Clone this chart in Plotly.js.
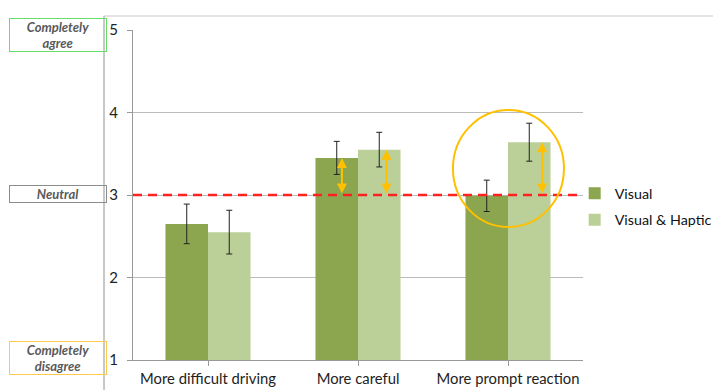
<!DOCTYPE html>
<html><head><meta charset="utf-8">
<script src="https://cdn.plot.ly/plotly-3.0.1.min.js"></script>
<style>html,body{margin:0;padding:0;background:#fff}#chart{width:713px;height:390px}</style>
</head><body><div id="chart"></div>
<script>
const categories = ["More difficult driving", "More careful", "More prompt reaction"];
const visual = [2.65, 3.45, 2.99];
const visualErr = [0.24, 0.20, 0.19];
const visualHaptic = [2.55, 3.55, 3.64];
const visualHapticErr = [0.265, 0.21, 0.23];
const seriesNames = ["Visual", "Visual & Haptic"];
const yTicks = [1, 2, 3, 4, 5];
const neutralLevel = 3;
const sideLabels = ["Completely<br>agree", "Neutral", "Completely<br>disagree"];
const sideLabelLevels = [4.945, 3.012, 1.03];

const darkGreen = "#8BA64E", lightGreen = "#BBCF98", gold = "#FFC000";
const xIdx = categories.map((c, i) => i);

const traces = [
  {type: "bar", name: seriesNames[0], legendgroup: "g1", x: xIdx, y: visual, marker: {color: darkGreen},
   error_y: {type: "data", array: visualErr, color: "#222", thickness: 1, width: 3}},
  {type: "bar", name: seriesNames[1], legendgroup: "g2", x: xIdx, y: visualHaptic, marker: {color: lightGreen},
   error_y: {type: "data", array: visualHapticErr, color: "#222", thickness: 1, width: 3}}
];

const arrowSpecs = [
  {x: 1 - 0.107, y: visual[1]},
  {x: 1 + 0.19, y: visualHaptic[1]},
  {x: 2 + 0.227, y: visualHaptic[2]}
];
const annotations = arrowSpecs.map(a => ({
  x: a.x, y: a.y, xref: "x", yref: "y", ax: a.x, ay: neutralLevel, axref: "x", ayref: "y",
  showarrow: true, arrowside: "end+start", arrowhead: 2, arrowsize: 1, arrowwidth: 2,
  arrowcolor: gold, text: ""
}));
const boxColors = ["#66DD66", "#8C8C8C", "#FFC94D"];
const boxHeights = [32, 16, 32];
sideLabels.forEach((t, i) => {
  annotations.push({
    text: "<b><i>" + t + "</i></b>", xref: "paper", yref: "y", x: -0.1656, y: sideLabelLevels[i],
    showarrow: false, xanchor: "center", yanchor: "middle",
    font: {family: "Lato, 'Open Sans', sans-serif", size: 13, color: "#595959"},
    bordercolor: boxColors[i], borderwidth: 1, borderpad: 0, width: 96, height: boxHeights[i],
    bgcolor: "rgba(0,0,0,0)"
  });
});

const shapes = [
  {type: "line", xref: "paper", yref: "paper", x0: -0.0644, x1: -0.0644, y0: 1.0424, y1: -0.1, line: {color: "#c8c8c8", width: 2}, layer: "below"},
  {type: "line", xref: "paper", yref: "paper", x0: -0.0644, x1: 1.5, y0: 1.0424, y1: 1.0424, line: {color: "#c8c8c8", width: 1}},
  {type: "line", xref: "paper", yref: "y", x0: 0, x1: 1, y0: neutralLevel, y1: neutralLevel, line: {color: "#FF2020", width: 2.5, dash: "9px,6px"}},
  {type: "circle", xref: "x", yref: "y", x0: 1.633, x1: 2.373, y0: 2.612, y1: 4.03, line: {color: gold, width: 2}}
];

const layout = {
  width: 713, height: 390,
  margin: {l: 133, r: 130, t: 30, b: 30, autoexpand: false},
  paper_bgcolor: "#fff", plot_bgcolor: "#fff",
  barmode: "group", bargap: 0.433, bargroupgap: 0,
  font: {family: "Lato, 'Open Sans', sans-serif", size: 13, color: "#222"},
  xaxis: {tickmode: "array", tickvals: xIdx, ticktext: categories, range: [-0.5, 2.5],
    showline: true, linecolor: "#999", linewidth: 1, ticks: "outside", tickson: "boundaries",
    ticklen: 5, tickcolor: "#999", showgrid: false, zeroline: false, tickfont: {size: 14.8, color: "#222"}},
  yaxis: {range: [1, 5], tickvals: yTicks, showline: true, linecolor: "#999", linewidth: 1,
    ticks: "outside", ticklen: 5, tickcolor: "#999", gridcolor: "#bbbbbb", gridwidth: 1,
    zeroline: false, ticklabelstandoff: 6, tickfont: {size: 15, color: "#222"}},
  legend: {xref: "container", yref: "container", x: 0.806, y: 0.545, xanchor: "left", yanchor: "top",
    font: {size: 14.3, color: "#111"}, itemwidth: 30, tracegroupgap: 5, bgcolor: "rgba(0,0,0,0)"},
  shapes: shapes, annotations: annotations, showlegend: true
};
Plotly.newPlot("chart", traces, layout, {displayModeBar: false, staticPlot: true});
</script></body></html>
